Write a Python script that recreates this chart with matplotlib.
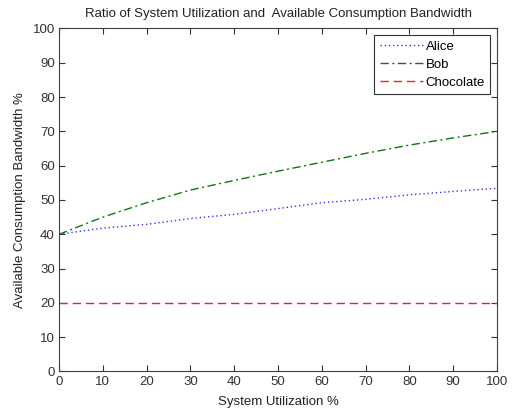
import matplotlib
matplotlib.use("Agg")
import matplotlib.pyplot as plt
import numpy as np

utilization = [0, 10, 20, 30, 40, 50, 60, 70, 80, 90, 100]
alice = [40.0, 41.8, 42.9, 44.6, 45.8, 47.5, 49.2, 50.2, 51.5, 52.5, 53.4]
bob = [40.0, 45.0, 49.2, 52.9, 55.7, 58.4, 61.0, 63.6, 66.0, 68.1, 70.0]
chocolate = [20, 20, 20, 20, 20, 20, 20, 20, 20, 20, 20]
xticks = [0, 10, 20, 30, 40, 50, 60, 70, 80, 90, 100]
yticks = [0, 10, 20, 30, 40, 50, 60, 70, 80, 90, 100]

plt.rcParams['font.family'] = ['Liberation Sans', 'DejaVu Sans']
plt.rcParams['font.size'] = 9.5

fig = plt.figure(figsize=(5.15, 4.08), dpi=100)
ax = fig.add_axes([0.1146, 0.0895, 0.8505, 0.8407])

ax.plot(utilization, alice, linestyle=(0, (1, 2)), color='#3333ff', linewidth=1.0, label='Alice')
ax.plot(utilization, bob, linestyle=(0, (6, 2.5, 1.5, 2.5)), color='#117711', linewidth=1.0, label='Bob')
ax.plot(utilization, chocolate, linestyle=(0, (6, 3.5)), color='#ee2222', linewidth=1.0, label='Chocolate')

ax.set_xlim(0, 100)
ax.set_ylim(0, 100)
ax.set_xticks(xticks)
ax.set_yticks(yticks)
ax.tick_params(direction='in', top=True, right=True, length=4, width=0.8,
               colors='#333333', labelsize=9.5, pad=3)
for s in ax.spines.values():
    s.set_color('#404040')
    s.set_linewidth(0.8)

ax.set_title('Ratio of System Utilization and  Available Consumption Bandwidth',
             fontsize=9.5, color='#222222', pad=8)
ax.set_xlabel('System Utilization %', fontsize=9.5, color='#222222', labelpad=6)
ax.set_ylabel('Available Consumption Bandwidth %', fontsize=9.5, color='#222222', labelpad=5)

leg = ax.legend(loc='upper right', fancybox=False, framealpha=1, edgecolor='#333333',
                handlelength=3.3, borderpad=0.4, labelspacing=0.45, handletextpad=0.2,
                borderaxespad=0.5, fontsize=9.5)
leg.get_frame().set_linewidth(0.8)

fig.savefig('out.png', dpi=100)
